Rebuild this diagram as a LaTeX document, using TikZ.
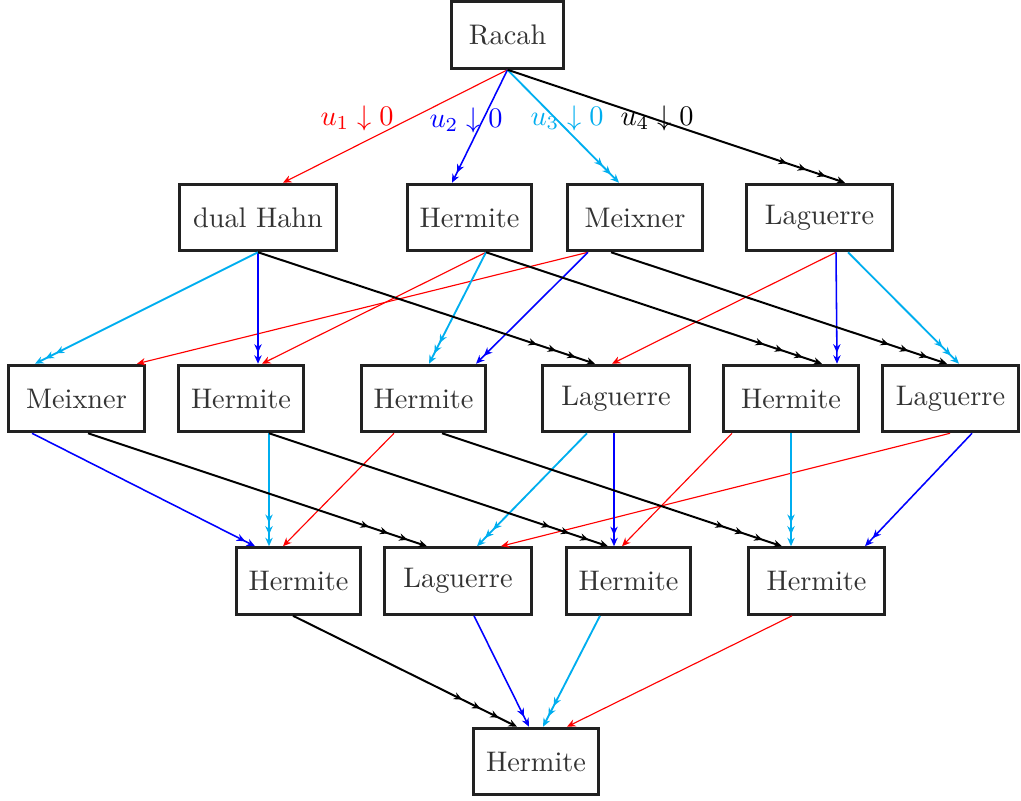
\documentclass[tikz,border=0pt]{standalone}
\usepackage{amsmath}
\usepackage{amssymb}
\usepackage{tikz}
\usetikzlibrary{arrows.meta,calc}

\definecolor{ucyan}{RGB}{0,174,239}

\tikzset{
  box/.style={draw=black!87, line width=1.05pt, text=black!80, minimum height=23.5pt, inner sep=0pt},
  mytip/.tip={Stealth[length=3pt,width=2.6pt]},
  uone/.style={red, line width=0.4pt, -{mytip}},
  utwo/.style={blue, line width=0.55pt, -{mytip[sep=0.9pt]mytip}},
  uthree/.style={ucyan, line width=0.65pt, -{mytip[sep=1.1pt]mytip[sep=1.1pt]mytip}},
  ufour/.style={black, line width=0.7pt, -{mytip[sep=4.2pt]mytip[sep=4.2pt]mytip[sep=4.2pt]mytip}}
}

\begin{document}
\begin{tikzpicture}[x=0.353pt,y=-0.353pt]
	\useasboundingbox (0,0) rectangle (1021,800);
	
	% Top
	\node[box, minimum width=39.7pt] (rac) at (507.5,35) {Racah};
	
	% One parameter gone
	\node[box, minimum width=55.6pt] (dh) at (258,217.5) {dual Hahn};
	\node[box, minimum width=43.9pt] (ha) at (469.5,217.5) {Hermite};
	\node[box, minimum width=47.8pt] (ma) at (635,217.5) {Meixner};
	\node[box, minimum width=51.7pt] (la) at (819.5,217.5) {Laguerre};
	
	% Two parameters gone
	\node[box, minimum width=47.8pt] (mb) at (76.5,398.5) {Meixner};
	\node[box, minimum width=43.9pt] (hb) at (241,398.5) {Hermite};
	\node[box, minimum width=43.9pt] (hc) at (423.5,398.5) {Hermite};
	\node[box, minimum width=52.1pt] (lb) at (616,398.5) {Laguerre};
	\node[box, minimum width=47.8pt] (hd) at (791,398.5) {Hermite};
	\node[box, minimum width=48.1pt] (lc) at (950.5,398.5) {Laguerre};
	
	% Three parameters gone
	\node[box, minimum width=43.9pt] (he) at (298.5,581) {Hermite};
	\node[box, minimum width=52.1pt] (ld) at (458,581) {Laguerre};
	\node[box, minimum width=43.9pt] (hf) at (628.5,581) {Hermite};
	\node[box, minimum width=48.1pt] (hg) at (816.5,581) {Hermite};
	
	% Bottom
	\node[box, minimum width=43.9pt] (hh) at (536,761.5) {Hermite};
	
	% Limit labels
	\node[red] (lone) at (357,118) {$u_1\downarrow 0$};
	\node[blue] (ltwo) at (466,120) {$u_2\downarrow 0$};
	\node[ucyan] (lthree) at (567,118) {$u_3\downarrow 0$};
	\node[black] (lfour) at (657,118) {$u_4\downarrow 0$};
	
	% u_1 to zero
	\foreach \s/\sx/\t/\tx in {rac/0/dh/25, ha/16.5/hb/21, ma/-47/mb/60.5, la/16.5/lb/-4,
		hc/-29.5/he/-15.5, hd/-59/hf/-6.5, lc/-0.5/ld/43, hg/-24.5/hh/31}
	\draw[uone] ($(\s.south)+(\sx,0)$) -- ($(\t.north)+(\tx,0)$);
	
	% u_2 to zero
	\foreach \s/\sx/\t/\tx in {rac/0/ha/-17.5, dh/0/hb/17, ma/-47/hc/52.5, la/16.5/hd/46,
		mb/-44.5/he/-43.5, lb/-2/hf/-14.5, lc/21.5/hg/48.5, ld/16/hh/-7}
	\draw[utwo] ($(\s.south)+(\sx,0)$) -- ($(\t.north)+(\tx,0)$);
	
	% u_3 to zero
	\foreach \s/\sx/\t/\tx in {rac/0/ma/-16, dh/0/mb/-41.5, ha/16.5/hc/5.5, la/28.5/lc/8.5,
		hb/28/he/-29.5, lb/-29/ld/19, hd/0/hg/-25.5, hf/-28.5/hh/7}
	\draw[uthree] ($(\s.south)+(\sx,0)$) -- ($(\t.north)+(\tx,0)$);
	
	% u_4 to zero
	\foreach \s/\sx/\t/\tx in {rac/0/la/25.5, dh/0/lb/-21, ha/16.5/hd/31, ma/-24/lc/-3.5,
		mb/11.5/ld/-31, hb/28/hf/-20.5, hc/18.5/hg/-34.5, he/-5.5/hh/-19}
	\draw[ufour] ($(\s.south)+(\sx,0)$) -- ($(\t.north)+(\tx,0)$);
\end{tikzpicture}
\end{document}
